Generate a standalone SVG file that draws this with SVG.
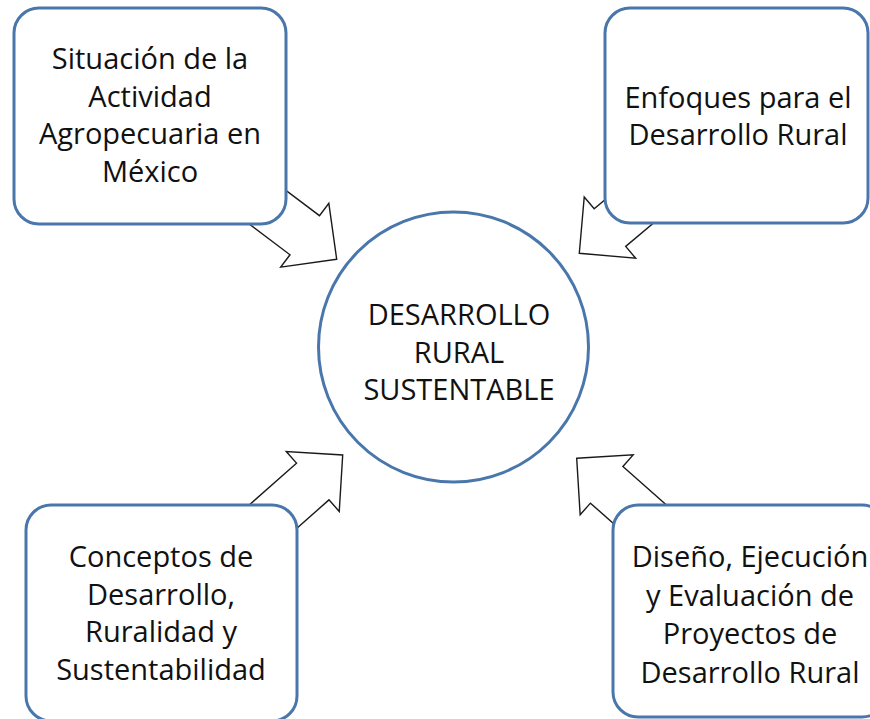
<svg xmlns="http://www.w3.org/2000/svg" width="870" height="719" viewBox="0 0 870 719">
  <style>
    .box { fill: #ffffff; stroke: #4a77ab; stroke-width: 3; }
    .hub { fill: #ffffff; stroke: #4a77ab; stroke-width: 3; }
    .arrow { fill: #ffffff; stroke: #1a1a1a; stroke-width: 1.4; stroke-linejoin: miter; }
    .lbl { font-family: "Open Sans", "Noto Sans", "Liberation Sans", sans-serif; font-size: 29px; fill: #111111; text-anchor: middle; }
  </style>
  <defs>
    <polygon id="blockArrow" points="0,0 -40,40 -40,24.5 -130,24.5 -130,-24.5 -40,-24.5 -40,-40"/>
  </defs>
  <rect x="0" y="0" width="870" height="719" fill="#ffffff"/>

  <g id="connectors">
    <use href="#blockArrow" class="arrow" transform="translate(336.7,259.3) rotate(37)"/>
    <use href="#blockArrow" class="arrow" transform="translate(579.3,253.3) rotate(140)"/>
    <use href="#blockArrow" class="arrow" transform="translate(342.7,455) rotate(-41.5)"/>
    <use href="#blockArrow" class="arrow" transform="translate(576.7,458.3) rotate(-138.5)"/>
  </g>

  <g id="node-situacion">
    <rect class="box" x="14" y="8" width="272" height="216" rx="25" ry="25"/>
    <text class="lbl" x="150" y="69">Situación de la</text>
    <text class="lbl" x="150" y="106.5">Actividad</text>
    <text class="lbl" x="150" y="144">Agropecuaria en</text>
    <text class="lbl" x="150" y="181.5">México</text>
  </g>

  <g id="node-enfoques">
    <rect class="box" x="605" y="8" width="263" height="215" rx="25" ry="25"/>
    <text class="lbl" x="738" y="108">Enfoques para el</text>
    <text class="lbl" x="738" y="145">Desarrollo Rural</text>
  </g>

  <g id="node-conceptos">
    <rect class="box" x="26" y="505" width="271" height="216" rx="25" ry="25"/>
    <text class="lbl" x="161" y="567">Conceptos de</text>
    <text class="lbl" x="161" y="604.5">Desarrollo,</text>
    <text class="lbl" x="161" y="642">Ruralidad y</text>
    <text class="lbl" x="161" y="679.5">Sustentabilidad</text>
  </g>

  <g id="node-diseno">
    <rect class="box" x="613" y="505" width="274" height="212" rx="25" ry="25"/>
    <text class="lbl" x="750" y="567">Diseño, Ejecución</text>
    <text class="lbl" x="750" y="605.5">y Evaluación de</text>
    <text class="lbl" x="750" y="644">Proyectos de</text>
    <text class="lbl" x="750" y="682.5">Desarrollo Rural</text>
  </g>

  <g id="node-hub">
    <circle class="hub" cx="453.5" cy="347" r="135"/>
    <text class="lbl" x="459" y="325">DESARROLLO</text>
    <text class="lbl" x="459" y="363">RURAL</text>
    <text class="lbl" x="459" y="400">SUSTENTABLE</text>
  </g>
</svg>
